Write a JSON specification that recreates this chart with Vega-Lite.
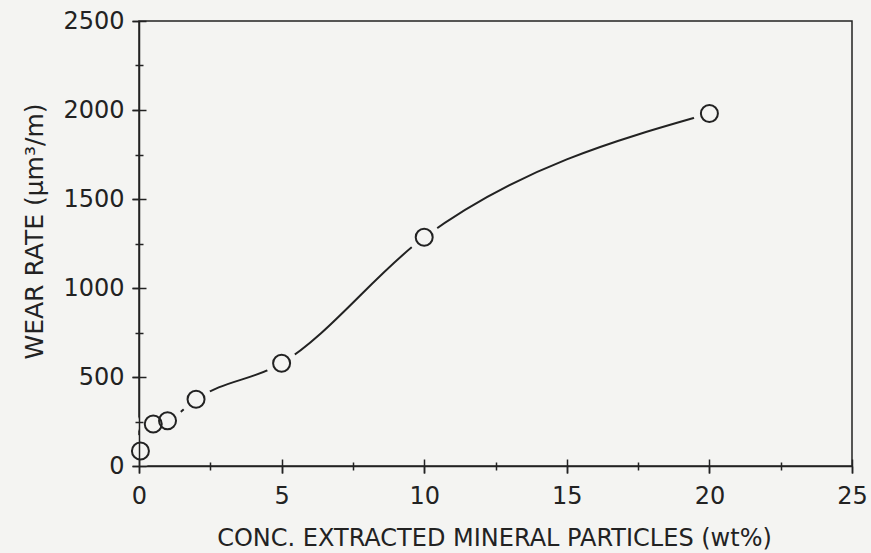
{
  "$schema": "https://vega.github.io/schema/vega-lite/v6.json",
  "width": 713,
  "height": 445,
  "autosize": "none",
  "padding": {"left": 139, "top": 21, "right": 19, "bottom": 87},
  "background": "#f4f4f2",
  "config": {
    "view": {"stroke": "#222222", "strokeWidth": 1.5},
    "axis": {
      "domainColor": "#222222",
      "domainWidth": 1.5,
      "tickColor": "#222222",
      "tickWidth": 1.5,
      "grid": false,
      "zindex": 1,
      "labelFont": "DejaVu Sans",
      "labelFontSize": 24,
      "labelColor": "#222222",
      "titleFont": "DejaVu Sans",
      "titleFontWeight": "normal",
      "titleColor": "#222222"
    }
  },
  "data": {
    "values": [
      {"conc": 0.05, "wear": 84},
      {"conc": 0.5, "wear": 236},
      {"conc": 1, "wear": 254},
      {"conc": 2, "wear": 375},
      {"conc": 5, "wear": 577},
      {"conc": 10, "wear": 1285},
      {"conc": 20, "wear": 1980}
    ]
  },
  "resolve": {"axis": {"x": "independent", "y": "independent"}},
  "layer": [
    {
      "mark": {"type": "line", "interpolate": "monotone", "color": "#222222", "strokeWidth": 2},
      "encoding": {
        "x": {"field": "conc", "type": "quantitative", "scale": {"domain": [0, 25], "nice": false},
          "axis": {"orient": "bottom", "zindex": 2, "values": [0, 5, 10, 15, 20, 25], "tickSize": 7, "labelPadding": 30, "labelBaseline": "alphabetic", "labelFlush": false, "labelOverlap": false,
            "title": "CONC. EXTRACTED MINERAL PARTICLES (wt%)", "titleFontSize": 24, "titleBaseline": "alphabetic", "titleY": 79, "titleX": 355}},
        "y": {"field": "wear", "type": "quantitative", "scale": {"domain": [0, 2500], "nice": false},
          "axis": {"orient": "left", "zindex": 2, "format": "d", "values": [0, 500, 1000, 1500, 2000, 2500], "tickSize": 7, "labelPadding": 8, "labelFlush": false, "labelOverlap": false,
            "title": "WEAR RATE (μm³/m)", "titleFontSize": 25, "titleBaseline": "alphabetic", "titleX": -97, "titleY": 210, "titleAlign": "center", "titleAngle": 270}}
      }
    },
    {
      "mark": {"type": "point", "shape": "circle", "filled": true, "color": "#f4f4f2", "size": 1024, "opacity": 1},
      "encoding": {
        "x": {"field": "conc", "type": "quantitative", "scale": {"domain": [0, 25], "nice": false},
          "axis": {"orient": "bottom", "zindex": 2, "offset": -4, "values": [2.5, 7.5, 12.5, 17.5, 22.5], "tickSize": 8, "labels": false, "domain": false, "title": null}},
        "y": {"field": "wear", "type": "quantitative", "scale": {"domain": [0, 2500], "nice": false},
          "axis": {"orient": "left", "zindex": 2, "offset": -4, "values": [250, 750, 1250, 1750, 2250], "tickSize": 8, "labels": false, "domain": false, "title": null}}
      }
    },
    {
      "mark": {"type": "point", "shape": "circle", "filled": false, "color": "#222222", "strokeWidth": 2, "size": 289, "opacity": 1},
      "encoding": {
        "x": {"field": "conc", "type": "quantitative", "scale": {"domain": [0, 25], "nice": false},
          "axis": {"orient": "bottom", "zindex": 2, "offset": -7, "values": [0, 5, 10, 15, 20, 25], "tickSize": 14, "labels": false, "domain": false, "title": null}},
        "y": {"field": "wear", "type": "quantitative", "scale": {"domain": [0, 2500], "nice": false},
          "axis": {"orient": "left", "zindex": 2, "offset": -7, "values": [0, 500, 1000, 1500, 2000, 2500], "tickSize": 14, "labels": false, "domain": false, "title": null}}
      }
    }
  ]
}
